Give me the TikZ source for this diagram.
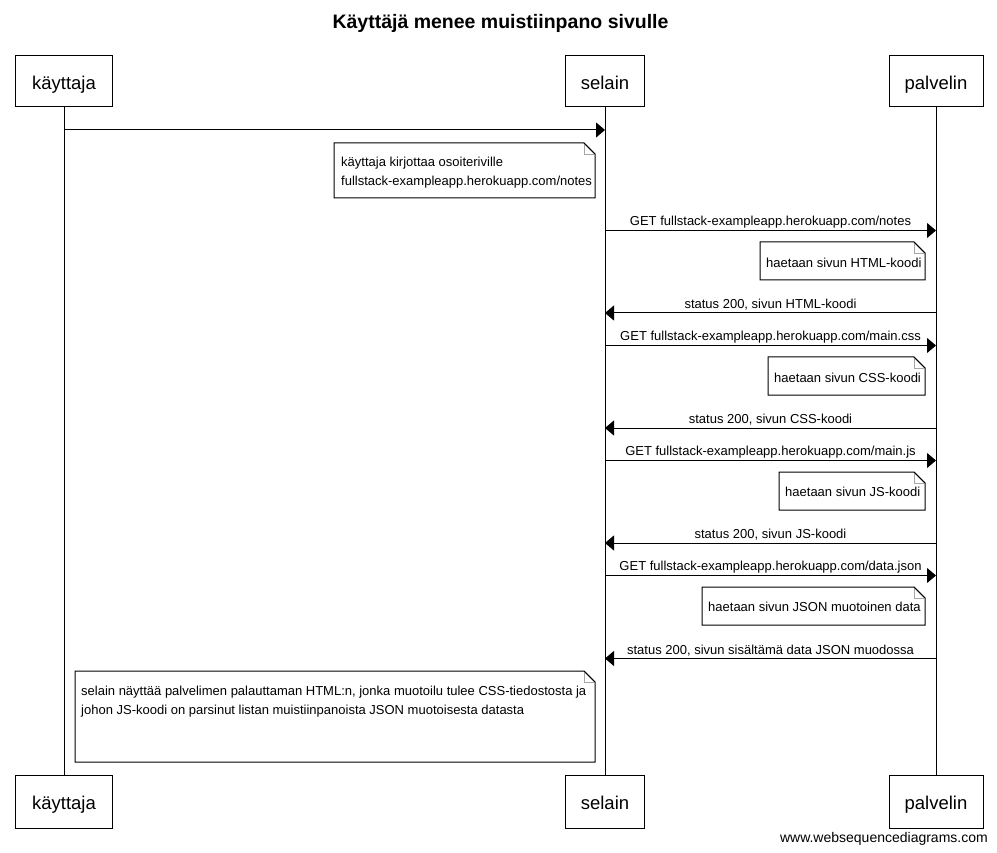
\documentclass[tikz,border=0pt]{standalone}
\usepackage{fontspec}
\setmainfont{Liberation Sans}
\usetikzlibrary{arrows.meta}
\tikzset{
  actorbox/.style={draw, line width=1pt, fill=white, inner sep=0pt, minimum height=51pt, text height=17pt, text depth=1pt, font=\fontsize{18.5}{22}\selectfont},
  lifeline/.style={line width=1pt},
  msg/.style={line width=1pt, -{Triangle[length=9pt,width=15pt]}},
  msglabel/.style={font=\fontsize{13}{16}\selectfont, inner sep=0pt},
  notetext/.style={font=\fontsize{13}{19}\selectfont, inner sep=0pt, align=left, anchor=north west},
  noteframe/.style={draw, line width=1pt, fill=white},
  notefold/.style={draw=gray!70, line width=0.8pt},
}
\newcommand{\notebox}[4]{%
  \path[noteframe] (#1,#2) -- (#3-11,#2) -- (#3,#2+11) -- (#3,#4) -- (#1,#4) -- cycle;
  \draw[notefold] (#3-11,#2) -- (#3-11,#2+11) -- (#3,#2+11);
  \draw[line width=1pt] (#3-11,#2) -- (#3,#2+11);
}
\begin{document}
\begin{tikzpicture}[x=1pt,y=-1pt]
\useasboundingbox[fill=white] (0,0) rectangle (997,853);

\node[font=\bfseries\fontsize{19.5}{23}\selectfont] (title) at (500.5,23.5) {Käyttäjä menee muistiinpano sivulle};

% participants
\node[actorbox, minimum width=97pt] (ta) at (64,81.5) {käyttaja};
\node[actorbox, minimum width=79pt] (sa) at (605,81.5) {selain};
\node[actorbox, minimum width=94pt] (pa) at (936,81.5) {palvelin};
\node[actorbox, minimum width=97pt, minimum height=53pt] (tb) at (64,801.5) {käyttaja};
\node[actorbox, minimum width=79pt, minimum height=53pt] (sb) at (605,801.5) {selain};
\node[actorbox, minimum width=94pt, minimum height=53pt] (pb) at (936,801.5) {palvelin};

\draw[lifeline] (ta.south) -- (tb.north);
\draw[lifeline] (sa.south) -- (sb.north);
\draw[lifeline] (pa.south) -- (pb.north);

% message 1
\draw[msg] (ta |- 0,130) -- (sa |- 0,130);

% note 1
\notebox{334}{143}{595}{198}
\node[notetext] (n1) at (341,157) {käyttaja kirjottaa osoiteriville\\fullstack-exampleapp.herokuapp.com/notes};

% GET notes
\draw[msg] (sa |- 0,230.5) -- node[msglabel, above=2pt] (l1) {GET fullstack-exampleapp.herokuapp.com/notes} (pa |- 0,230.5);
\notebox{760}{242}{925}{280}
\node[notetext, anchor=west] (n2) at (766,263) {haetaan sivun HTML-koodi};

\draw[msg] (pa |- 0,313) -- node[msglabel, above=2pt] (l2) {status 200, sivun HTML-koodi} (sa |- 0,313);

\draw[msg] (sa |- 0,345.5) -- node[msglabel, above=2pt] (l3) {GET fullstack-exampleapp.herokuapp.com/main.css} (pa |- 0,345.5);
\notebox{768}{357}{925}{395}
\node[notetext, anchor=west] (n3) at (774,378) {haetaan sivun CSS-koodi};

\draw[msg] (pa |- 0,428) -- node[msglabel, above=2pt] (l4) {status 200, sivun CSS-koodi} (sa |- 0,428);

\draw[msg] (sa |- 0,460.5) -- node[msglabel, above=2pt] (l5) {GET fullstack-exampleapp.herokuapp.com/main.js} (pa |- 0,460.5);
\notebox{779}{472}{925}{510}
\node[notetext, anchor=west] (n4) at (785,492) {haetaan sivun JS-koodi};

\draw[msg] (pa |- 0,543) -- node[msglabel, above=2pt] (l6) {status 200, sivun JS-koodi} (sa |- 0,543);

\draw[msg] (sa |- 0,575.5) -- node[msglabel, above=2pt] (l7) {GET fullstack-exampleapp.herokuapp.com/data.json} (pa |- 0,575.5);
\notebox{702}{587}{925}{625}
\node[notetext, anchor=west] (n5) at (708,607) {haetaan sivun JSON muotoinen data};

\draw[msg] (pa |- 0,658.5) -- node[msglabel, above=2pt] (l8) {status 200, sivun sisältämä data JSON muodossa} (sa |- 0,658.5);

% note 6
\notebox{75}{671}{595}{762}
\node[notetext] (n6) at (81,686) {selain näyttää palvelimen palauttaman HTML:n, jonka muotoilu tulee CSS-tiedostosta ja\\johon JS-koodi on parsinut listan muistiinpanoista JSON muotoisesta datasta};

\node[font=\fontsize{14}{17}\selectfont, anchor=east, inner sep=0pt] (foot) at (988,838.5) {www.websequencediagrams.com};
\end{tikzpicture}
\end{document}
